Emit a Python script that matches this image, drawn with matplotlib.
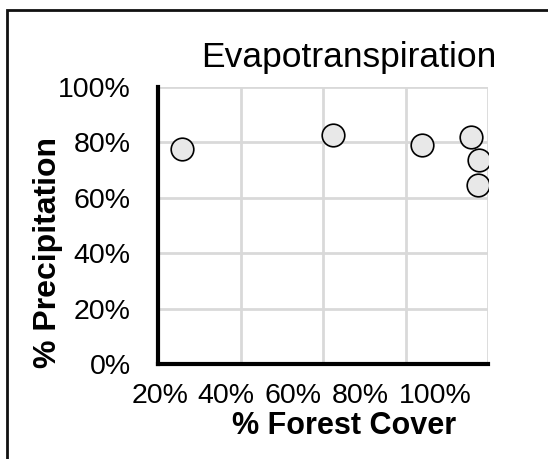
import numpy as np
import matplotlib
matplotlib.use("Agg")
import matplotlib.pyplot as plt
from matplotlib.patches import Rectangle

plt.rcParams["font.family"] = ["Liberation Sans", "DejaVu Sans"]

# >>>>>>>>>>>>>> data
forest_cover = [25.7, 62.4, 84.0, 95.9, 97.8, 97.5]   # % forest cover
et_precip = [77.7, 82.7, 79.1, 81.9, 73.7, 64.7]      # ET as % of precipitation

x_grid = [20, 40, 60, 80, 100]
y_ticks = [0, 20, 40, 60, 80, 100]
x_labels = ["20%", "40%", "60%", "80%", "100%"]
y_labels = ["0%", "20%", "40%", "60%", "80%", "100%"]
# the x labels sit squeezed to the left of the gridlines in the original
x_label_pos = [20.4, 36.4, 52.7, 68.9, 87.1]

# >>>>>>>>>>>>>> plotting
fig = plt.figure(figsize=(5.48, 4.59), dpi=100)
ax = fig.add_axes([0.2892, 0.2059, 0.6013, 0.6046])

ax.scatter(forest_cover, et_precip, s=265, facecolor="#e8e8e8",
           edgecolor="black", linewidth=1.2, zorder=3)

ax.set_xlim(20, 100)
ax.set_ylim(0, 100)

ax.set_xticks(x_grid, minor=True)
ax.set_xticks(x_label_pos)
ax.set_xticklabels(x_labels, fontsize=20.5)
ax.set_yticks(y_ticks)
ax.set_yticklabels(y_labels, fontsize=20.5)
ax.tick_params(axis="x", which="both", length=0, pad=13)
ax.tick_params(axis="y", length=0, pad=20)

ax.grid(False)
ax.grid(True, axis="x", which="minor", color="#d9d9d9", linewidth=2)
ax.grid(True, axis="y", which="major", color="#d9d9d9", linewidth=2)
ax.set_axisbelow(True)

for s in ["top", "right"]:
    ax.spines[s].set_visible(False)
for s in ["left", "bottom"]:
    ax.spines[s].set_linewidth(3)
    ax.spines[s].set_color("black")
    ax.spines[s].set_zorder(4)

ax.text(0.576, 1.072, "Evapotranspiration", transform=ax.transAxes,
        ha="center", va="baseline", fontsize=25.5)
ax.text(0.564, -0.249, "% Forest Cover", transform=ax.transAxes,
        ha="center", va="baseline", fontsize=22, fontweight="bold")
ax.text(-0.336, 0.404, "% Precipitation", transform=ax.transAxes,
        ha="center", va="center", rotation=90, fontsize=23, fontweight="bold")

# outer frame, cut off at the right and bottom like the original
fig.patches.append(Rectangle((7 / 548, -0.5), 2.0, 1 - 10 / 459 + 0.5,
                             transform=fig.transFigure, fill=False,
                             edgecolor="#111111", linewidth=2))

fig.savefig("out.png", dpi=100)
